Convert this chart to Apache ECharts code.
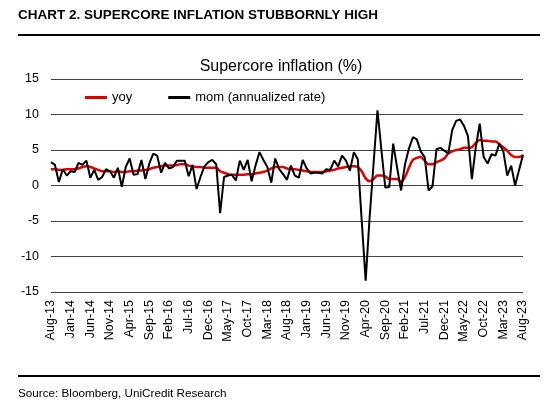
<!DOCTYPE html>
<html>
<head>
<meta charset="utf-8">
<script src="https://cdn.jsdelivr.net/npm/echarts@6/dist/echarts.min.js"></script>
<style>
html,body{margin:0;padding:0;background:#fff;}
#c{width:560px;height:407px;}
</style>
</head>
<body>
<div id="c"></div>
<script>
// Monthly categories Aug-13 .. Aug-23
const monthNames = ['Jan','Feb','Mar','Apr','May','Jun','Jul','Aug','Sep','Oct','Nov','Dec'];
const categories = [];
for (let k = 0; k < 121; k++) {
  const m = (7 + k) % 12;
  const y = 13 + Math.floor((7 + k) / 12);
  categories.push(monthNames[m] + '-' + String(y).padStart(2, '0'));
}

// yoy supercore inflation (%)
const yoy = [
  2.3, 2.3, 2.2, 2.2, 2.3, 2.3, 2.3, 2.4, 2.6, 2.7,
  2.6, 2.4, 2.2, 2.0, 2.0, 2.0, 1.9, 2.0, 1.9, 1.9,
  2.0, 2.0, 2.1, 2.1, 2.2, 2.3, 2.5, 2.6, 2.7, 2.8,
  2.8, 2.8, 2.9, 3.0, 3.0, 2.8, 2.7, 2.6, 2.6, 2.5,
  2.5, 2.5, 2.5, 2.0, 1.8, 1.6, 1.5, 1.5, 1.5, 1.5,
  1.6, 1.6, 1.7, 1.8, 1.9, 2.1, 2.4, 2.6, 2.6, 2.6,
  2.4, 2.3, 2.3, 2.2, 2.1, 2.0, 1.9, 1.9, 1.9, 1.9,
  2.0, 2.1, 2.2, 2.4, 2.5, 2.6, 2.7, 2.7, 2.6, 2.0,
  1.0, 0.6, 0.9, 1.4, 1.4, 1.3, 0.9, 0.9, 0.9, 0.5,
  1.2, 2.5, 3.6, 3.9, 4.0, 3.5, 3.0, 3.0, 3.3, 3.5,
  3.8, 4.5, 4.8, 5.0, 5.1, 5.3, 5.3, 5.4, 6.0, 6.4,
  6.3, 6.3, 6.2, 6.2, 5.8, 5.4, 4.9, 4.3, 4.0, 4.0,
  4.3
];

// mom annualized rate (%)
const mom = [
  3.3, 2.9, 0.5, 2.3, 1.4, 2.0, 1.9, 3.2, 2.9, 3.5,
  1.1, 2.2, 0.8, 1.2, 2.3, 2.0, 1.1, 2.5, -0.2, 2.6,
  3.8, 1.5, 1.6, 3.6, 0.9, 3.1, 4.5, 4.2, 1.8, 3.2,
  2.4, 2.6, 3.5, 3.5, 3.5, 1.3, 2.9, -0.5, 1.2, 2.7,
  3.3, 3.6, 3.0, -3.9, 1.2, 1.4, 1.5, 0.7, 3.5, 2.2,
  3.6, 0.6, 2.8, 4.7, 3.6, 2.6, 0.4, 3.8, 2.3, 1.6,
  0.8, 2.8, 1.4, 1.1, 3.6, 2.4, 1.7, 1.8, 1.8, 1.7,
  2.3, 2.2, 3.5, 2.7, 4.2, 3.5, 2.1, 4.7, 3.7, -5.0,
  -13.4, -4.5, 3.0, 10.6, 5.0, -0.3, -0.2, 5.9, 2.5, -0.7,
  3.0, 5.2, 6.8, 6.5, 4.8, 4.0, -0.7, -0.1, 5.1, 5.3,
  4.9, 4.5, 7.8, 9.1, 9.3, 8.4, 7.0, 0.9, 5.4, 8.7,
  4.0, 3.1, 4.4, 4.2, 5.9, 4.8, 1.4, 2.8, 0.0, 2.2,
  4.3
];

const yTicks = { min: -15, max: 15, interval: 5 };

const FONT = '"Liberation Sans", Arial, sans-serif';
const chart = echarts.init(document.getElementById('c'), null, { renderer: 'canvas' });
chart.setOption({
  backgroundColor: '#fff',
  animation: false,
  textStyle: { fontFamily: FONT, color: '#000' },
  title: [
    {
      text: 'CHART 2. SUPERCORE INFLATION STUBBORNLY HIGH',
      left: 13, top: 3,
      textStyle: { fontFamily: FONT, fontSize: 13.5, fontWeight: 'bold', color: '#000' }
    },
    {
      text: 'Supercore inflation (%)',
      left: 276, top: 54, textAlign: 'center',
      textStyle: { fontFamily: FONT, fontSize: 16, fontWeight: 'normal', color: '#000' }
    },
    {
      text: 'Source: Bloomberg, UniCredit Research',
      left: 13, top: 383,
      textStyle: { fontFamily: FONT, fontSize: 11.7, fontWeight: 'normal', color: '#000' }
    }
  ],
  graphic: [
    { type: 'rect', shape: { x: 18, y: 34, width: 522, height: 2 }, style: { fill: '#000' } },
    { type: 'rect', shape: { x: 18, y: 375, width: 522, height: 2 }, style: { fill: '#000' } }
  ],
  legend: {
    left: 80, top: 86,
    itemWidth: 22, itemHeight: 3, itemGap: 36,
    icon: 'rect',
    textStyle: { fontFamily: FONT, fontSize: 13, color: '#000' },
    data: [
      { name: 'yoy', itemStyle: { color: '#e60000' } },
      { name: 'mom (annualized rate)', itemStyle: { color: '#000' } }
    ]
  },
  grid: { left: 51, right: 37, top: 79, bottom: 115, containLabel: false },
  xAxis: {
    type: 'category',
    data: categories,
    boundaryGap: false,
    axisLine: { show: false },
    axisTick: { show: false },
    axisLabel: {
      interval: 4, rotate: 90, margin: 8,
      fontFamily: FONT, fontSize: 12.5, color: '#000'
    },
    splitLine: { show: false }
  },
  yAxis: {
    type: 'value',
    min: yTicks.min, max: yTicks.max, interval: yTicks.interval,
    axisLine: { show: false },
    axisTick: { show: false },
    axisLabel: { margin: 12, fontFamily: FONT, fontSize: 12.5, color: '#000' },
    splitLine: { show: true, lineStyle: { color: '#444', width: 1.2 } }
  },
  series: [
    {
      name: 'yoy', type: 'line', data: yoy,
      showSymbol: false, smooth: 0.3,
      lineStyle: { color: '#e60000', width: 2.5 },
      itemStyle: { color: '#e60000' }
    },
    {
      name: 'mom (annualized rate)', type: 'line', data: mom,
      showSymbol: false,
      lineStyle: { color: '#000', width: 2 },
      itemStyle: { color: '#000' }
    }
  ]
});
</script>
</body>
</html>
